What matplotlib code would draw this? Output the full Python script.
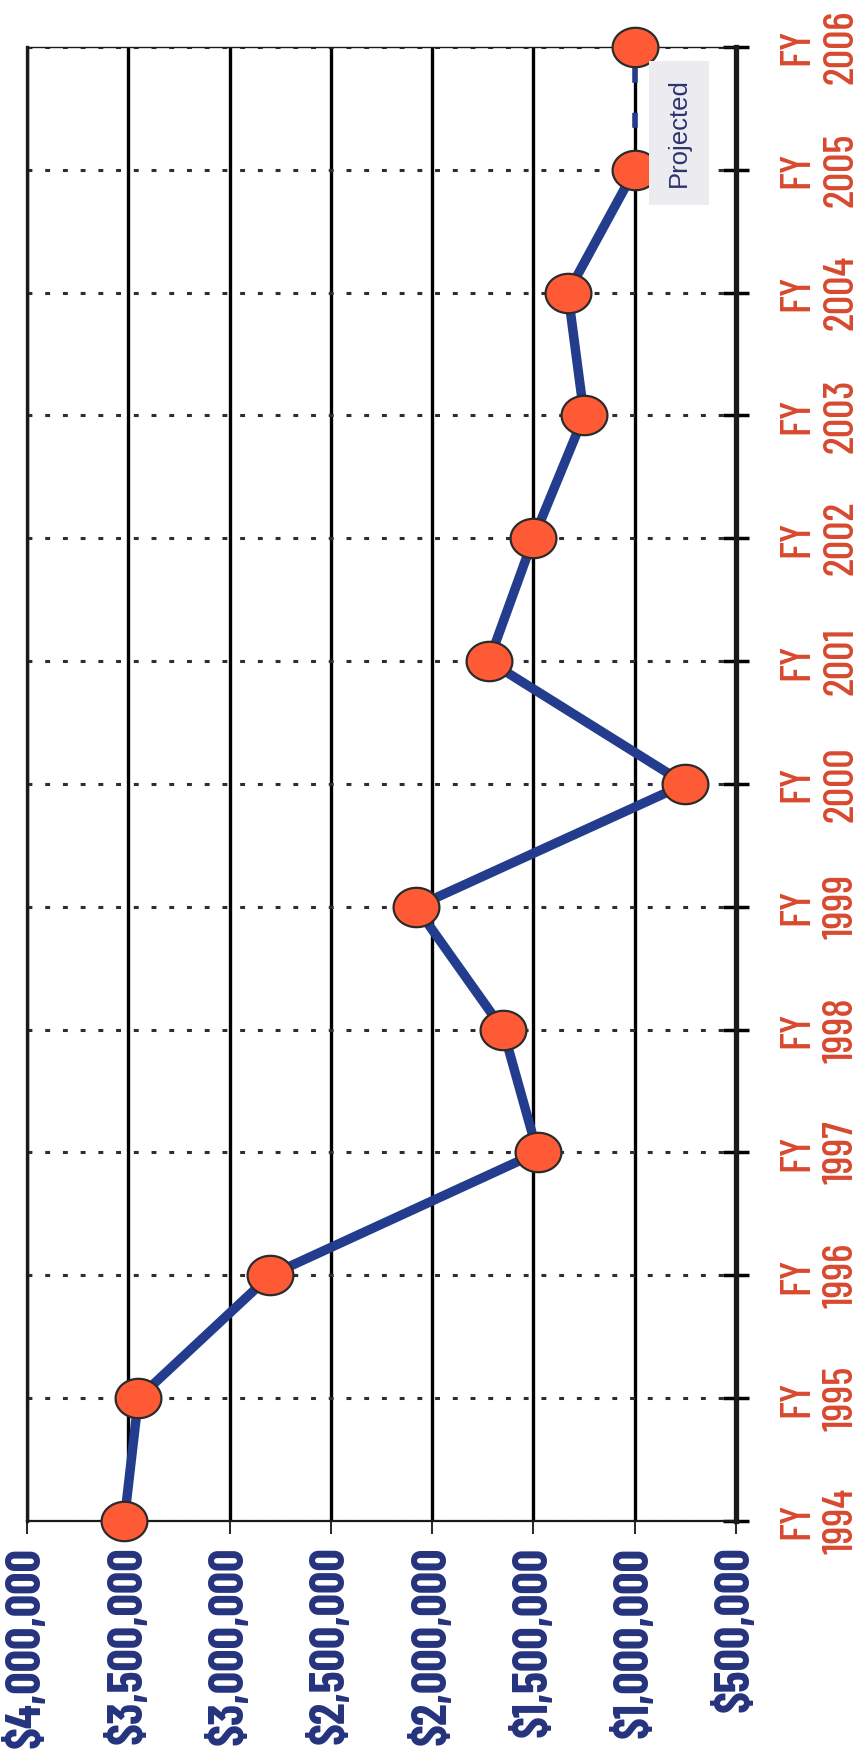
import numpy as np
import matplotlib.pyplot as plt
from matplotlib.path import Path

# fiscal years and yearly totals (dollars)
years = [1994, 1995, 1996, 1997, 1998, 1999, 2000, 2001, 2002, 2003, 2004, 2005, 2006]
totals = [3520000, 3450000, 2800000, 1480000, 1650000, 2080000, 750000,
          1720000, 1500000, 1250000, 1330000, 1000000, 1000000]
year_labels = ['FY\n%d' % y for y in years]
dollar_ticks = [4000000, 3500000, 3000000, 2500000, 2000000, 1500000, 1000000, 500000]
dollar_labels = ['${:,}'.format(v) for v in dollar_ticks]

NAVY = '#25337d'
LINE = '#233c8e'
RED = '#d8492f'
DOT = '#ff5a36'
NARROW = ['Barlow Condensed', 'DejaVu Sans']

# slightly flattened circle for the markers
t = np.linspace(0, 2 * np.pi, 64)
ellipse = Path(np.column_stack([np.cos(t), 0.86 * np.sin(t)]), closed=True)

fig = plt.figure(figsize=(8.63, 17.59), dpi=100)
ax = fig.add_axes([0.0313, 0.1353, 0.8216, 0.838])

# chart is drawn turned on its side: dollars run right-to-left, years bottom-to-top
ax.set_xlim(4000000, 500000)
ax.set_ylim(1994, 2006)

ax.grid(axis='x', color='black', lw=2.4, ls='-')
ax.grid(axis='y', color='#2e2e2e', lw=2.2, ls=(0, (1.6, 4.2)))

ax.plot(totals[:-1], years[:-1], color=LINE, lw=6.8, solid_capstyle='round', zorder=3)
ax.plot(totals[-2:], years[-2:], color=LINE, lw=4, ls=(0.5, (2.7, 5.4)), zorder=3)
ax.plot(totals, years, ls='none', marker=ellipse, ms=33, mfc=DOT, mec='#2b2b2b',
        mew=1.6, zorder=4, clip_on=False)

ax.set_xticks(dollar_ticks)
ax.set_xticklabels(dollar_labels, rotation=90, ha='center', va='top',
                   family=NARROW, fontsize=35.5, fontweight='bold', color=NAVY)
ax.tick_params(axis='x', direction='out', length=9.5, width=1.2, pad=9)

ax.yaxis.tick_right()
ax.set_yticks(years)
ax.set_yticklabels(year_labels, rotation=90, ha='left', va='center',
                   multialignment='center', family=NARROW, fontsize=31,
                   fontweight=500, color=RED)
ax.tick_params(axis='y', direction='inout', length=19, width=2.5, pad=21)

ax.spines['left'].set_linewidth(2.4)
ax.spines['right'].set_linewidth(3.8)
ax.spines['bottom'].set_linewidth(1.6)
ax.spines['top'].set_linewidth(1.0)
for s in ax.spines.values():
    s.set_color('#1a1a1a')

ax.text(782000, 2005.3, 'Projected', rotation=90, ha='center', va='center',
        fontsize=18.5, color='#2c3370', family=['Liberation Sans', 'DejaVu Sans'],
        bbox=dict(boxstyle='square,pad=0.7', fc='#ececf0', ec='none'), zorder=5)

fig.savefig('out.png', dpi=100)
